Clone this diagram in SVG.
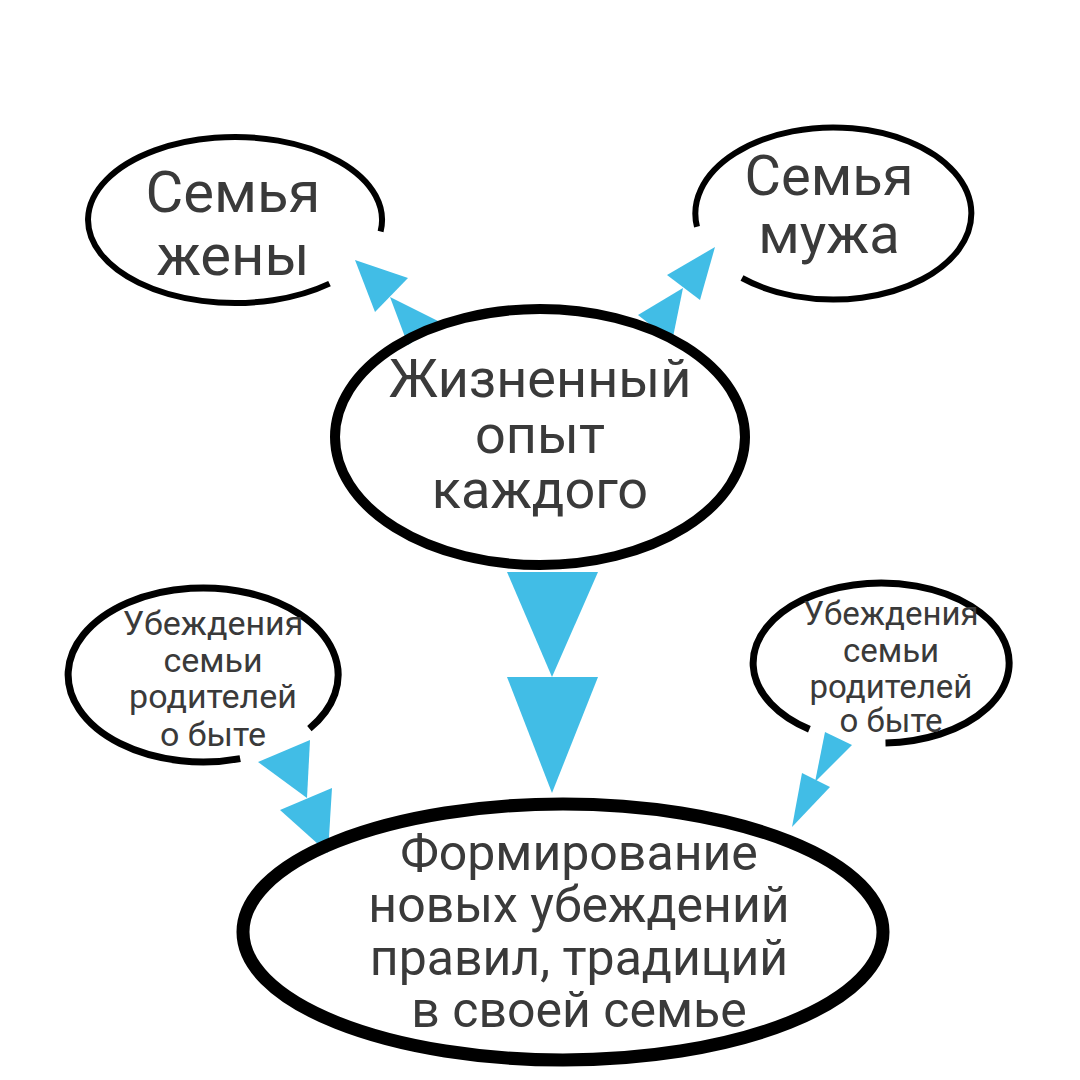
<svg xmlns="http://www.w3.org/2000/svg" width="1080" height="1080" viewBox="0 0 1080 1080">
<style>
.ring{fill:none;stroke:#000;}
.t{font-family:Roboto,"Noto Sans",sans-serif;fill:#3a3a3a;text-anchor:middle;}
.arr{fill:#41bde6;}
</style>
<rect width="1080" height="1080" fill="#fff"/>
<g id="connectors">
<polygon class="arr" points="355,260 408,278 375,312"/>
<polygon class="arr" points="390,297 442,323 408,345"/>
<polygon class="arr" points="715,247 667,275 700,300"/>
<polygon class="arr" points="683,288 638,315 672,342"/>
<polygon class="arr" points="507,572 598,572 552,677"/>
<polygon class="arr" points="507,677 598,677 552,793"/>
<polygon class="arr" points="258,762 310,740 307,798"/>
<polygon class="arr" points="280,810 332,788 328,853"/>
<polygon class="arr" points="825,732 852,745 815,782"/>
<polygon class="arr" points="802,773 830,787 792,827"/>
</g>
<g id="node-wife">
<path class="ring" stroke-width="6" d="M329.5,283.6 A147,83 0 1 1 380.6,231.6"/>
<text class="t" font-size="58" x="233" y="212">Семья</text>
<text class="t" font-size="58" x="233" y="275">жены</text>
</g>
<g id="node-husband">
<path class="ring" stroke-width="6" d="M697,226.8 A138,86 0 1 1 742,278"/>
<text class="t" font-size="56" x="829" y="195">Семья</text>
<text class="t" font-size="56" x="829" y="253">мужа</text>
</g>
<g id="node-experience">
<ellipse class="ring" stroke-width="10" cx="540" cy="437" rx="205" ry="128"/>
<text class="t" font-size="54" x="540" y="397">Жизненный</text>
<text class="t" font-size="54" x="540" y="453">опыт</text>
<text class="t" font-size="54" x="540" y="508">каждого</text>
</g>
<g id="node-parents-left">
<path class="ring" stroke-width="7" d="M240.2,758.6 A135,87 0 1 1 309.4,728.6"/>
<text class="t" font-size="34" x="213" y="635">Убеждения</text>
<text class="t" font-size="34" x="213" y="672">семьи</text>
<text class="t" font-size="34" x="213" y="708">родителей</text>
<text class="t" font-size="34" x="213" y="746">о быте</text>
</g>
<g id="node-parents-right">
<path class="ring" stroke-width="7" d="M809.4,729.3 A128,80 0 1 1 885.5,743"/>
<text class="t" font-size="33" x="891" y="625">Убеждения</text>
<text class="t" font-size="33" x="891" y="662">семьи</text>
<text class="t" font-size="33" x="891" y="698">родителей</text>
<text class="t" font-size="33" x="891" y="732">о быте</text>
</g>
<g id="node-new">
<ellipse class="ring" stroke-width="13" cx="563" cy="932" rx="320" ry="128"/>
<text class="t" font-size="50" x="579" y="870">Формирование</text>
<text class="t" font-size="50" x="579" y="922">новых убеждений</text>
<text class="t" font-size="50" x="579" y="975">правил, традиций</text>
<text class="t" font-size="50" x="579" y="1027">в своей семье</text>
</g>
</svg>
